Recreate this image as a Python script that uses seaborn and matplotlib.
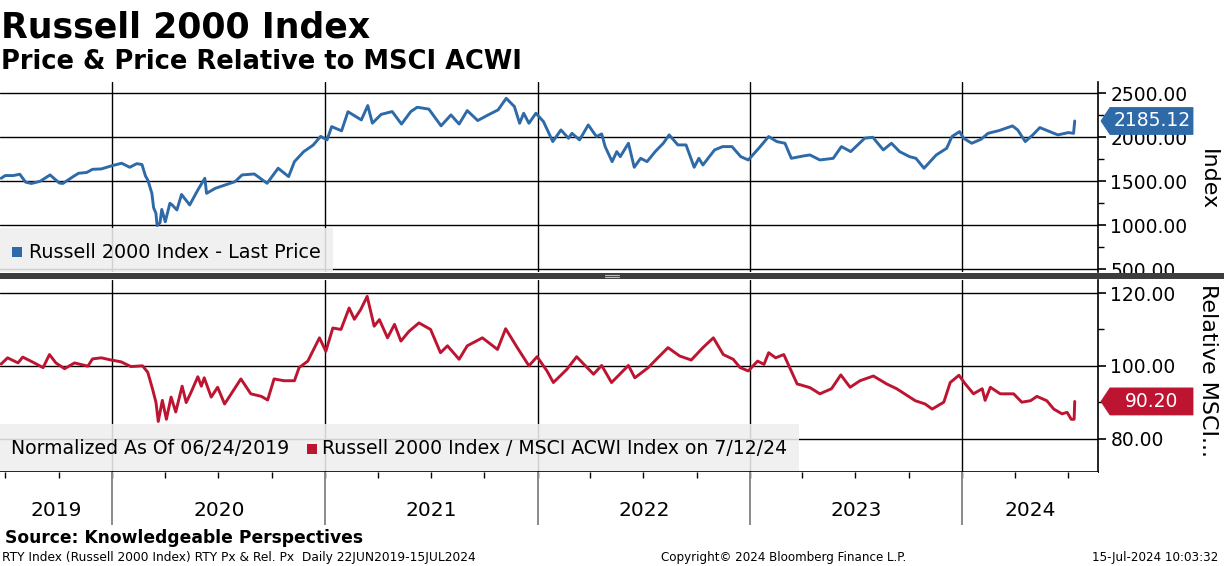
import numpy as np
import pandas as pd
import matplotlib
matplotlib.use("Agg")
from matplotlib import pyplot as plt
import matplotlib.dates as mdates
from matplotlib.patches import Rectangle, Polygon
from matplotlib.ticker import MultipleLocator, FormatStrFormatter
import seaborn as sns

# %% data
price_dates = [
    "2019-06-24", "2019-07-01", "2019-07-15", "2019-07-26", "2019-08-05", "2019-08-15",
    "2019-08-30", "2019-09-16", "2019-10-02", "2019-10-08", "2019-10-25", "2019-11-04",
    "2019-11-18", "2019-11-28", "2019-12-13", "2019-12-30", "2020-01-17", "2020-01-31",
    "2020-02-12", "2020-02-21", "2020-02-27", "2020-03-02", "2020-03-09", "2020-03-12",
    "2020-03-16", "2020-03-18", "2020-03-23", "2020-03-26", "2020-04-01", "2020-04-09",
    "2020-04-13", "2020-04-21", "2020-04-29", "2020-05-13", "2020-05-27", "2020-06-08",
    "2020-06-11", "2020-06-26", "2020-07-13", "2020-07-30", "2020-08-11", "2020-09-01",
    "2020-09-23", "2020-10-12", "2020-10-30", "2020-11-09", "2020-11-25", "2020-12-11",
    "2020-12-24", "2021-01-04", "2021-01-12", "2021-01-29", "2021-02-09", "2021-03-04",
    "2021-03-15", "2021-03-23", "2021-04-07", "2021-04-26", "2021-05-12", "2021-05-28",
    "2021-06-08", "2021-06-28", "2021-07-19", "2021-08-05", "2021-08-19", "2021-09-02",
    "2021-09-20", "2021-10-08", "2021-10-25", "2021-11-08", "2021-11-22", "2021-12-01",
    "2021-12-08", "2021-12-17", "2021-12-29", "2022-01-11", "2022-01-27", "2022-02-10",
    "2022-02-23", "2022-03-01", "2022-03-14", "2022-03-29", "2022-04-12", "2022-04-21",
    "2022-04-27", "2022-05-09", "2022-05-17", "2022-05-23", "2022-06-06", "2022-06-16",
    "2022-06-27", "2022-07-08", "2022-07-22", "2022-08-05", "2022-08-15", "2022-08-30",
    "2022-09-13", "2022-09-27", "2022-10-05", "2022-10-12", "2022-11-01", "2022-11-15",
    "2022-12-01", "2022-12-16", "2022-12-29", "2023-01-16", "2023-02-02", "2023-02-16",
    "2023-03-02", "2023-03-13", "2023-04-03", "2023-04-14", "2023-05-01", "2023-05-24",
    "2023-06-07", "2023-06-23", "2023-07-17", "2023-07-31", "2023-08-18", "2023-09-01",
    "2023-09-15", "2023-10-02", "2023-10-13", "2023-10-27", "2023-11-09", "2023-11-17",
    "2023-12-05", "2023-12-14", "2023-12-27", "2024-01-03", "2024-01-17", "2024-02-02",
    "2024-02-14", "2024-03-04", "2024-03-27", "2024-04-05", "2024-04-18", "2024-05-01",
    "2024-05-13", "2024-05-30", "2024-06-13", "2024-07-01", "2024-07-10", "2024-07-12",
]
price_vals = [
    1534, 1565, 1565, 1580, 1490, 1475,
    1500, 1572, 1480, 1475, 1550, 1591,
    1600, 1636, 1640, 1674, 1705, 1659,
    1700, 1690, 1560, 1515, 1363, 1200,
    1136, 996, 1030, 1180, 1040, 1250,
    1230, 1174, 1350, 1231, 1401, 1534,
    1363, 1420, 1458, 1496, 1572, 1583,
    1477, 1648, 1553, 1723, 1837, 1910,
    2010, 1970, 2121, 2073, 2290, 2197,
    2360, 2160, 2260, 2292, 2150, 2292,
    2341, 2320, 2130, 2254, 2150, 2303,
    2190, 2254, 2311, 2443, 2349, 2159,
    2273, 2159, 2273, 2178, 1951, 2083,
    1989, 2045, 1970, 2140, 2008, 2038,
    1894, 1723, 1837, 1780, 1932, 1659,
    1761, 1723, 1837, 1932, 2027, 1913,
    1913, 1659, 1761, 1685, 1856, 1894,
    1894, 1780, 1742, 1875, 2008, 1951,
    1932, 1761, 1788, 1799, 1742, 1761,
    1894, 1837, 1989, 2000, 1856, 1932,
    1837, 1780, 1761, 1648, 1742, 1799,
    1875, 2008, 2064, 1989, 1932, 1977,
    2045, 2076, 2129, 2083, 1951, 2027,
    2110, 2064, 2027, 2053, 2045, 2185.12,
]

rel_dates = [
    "2019-06-24", "2019-07-05", "2019-07-23", "2019-07-31", "2019-08-20", "2019-09-04",
    "2019-09-15", "2019-09-26", "2019-10-11", "2019-10-28", "2019-11-20", "2019-11-28",
    "2019-12-13", "2019-12-30", "2020-01-16", "2020-02-02", "2020-02-22", "2020-03-02",
    "2020-03-10", "2020-03-16", "2020-03-20", "2020-03-27", "2020-04-03", "2020-04-11",
    "2020-04-19", "2020-04-30", "2020-05-07", "2020-05-15", "2020-05-27", "2020-06-02",
    "2020-06-07", "2020-06-19", "2020-06-30", "2020-07-12", "2020-07-23", "2020-08-09",
    "2020-08-26", "2020-09-13", "2020-09-24", "2020-10-05", "2020-10-22", "2020-11-09",
    "2020-11-17", "2020-12-02", "2020-12-22", "2021-01-02", "2021-01-14", "2021-01-28",
    "2021-02-11", "2021-02-20", "2021-03-03", "2021-03-14", "2021-03-26", "2021-04-04",
    "2021-04-18", "2021-04-30", "2021-05-11", "2021-05-25", "2021-06-11", "2021-07-01",
    "2021-07-18", "2021-07-30", "2021-08-19", "2021-09-02", "2021-09-28", "2021-10-24",
    "2021-11-07", "2021-11-27", "2021-12-17", "2021-12-31", "2022-01-17", "2022-01-28",
    "2022-02-20", "2022-03-09", "2022-04-07", "2022-04-21", "2022-05-08", "2022-06-06",
    "2022-06-17", "2022-07-10", "2022-07-24", "2022-08-13", "2022-09-02", "2022-09-22",
    "2022-10-12", "2022-10-30", "2022-11-16", "2022-12-03", "2022-12-15", "2022-12-29",
    "2023-01-14", "2023-01-25", "2023-02-02", "2023-02-14", "2023-02-28", "2023-03-14",
    "2023-03-23", "2023-03-28", "2023-04-14", "2023-05-01", "2023-05-21", "2023-06-06",
    "2023-06-22", "2023-07-09", "2023-08-01", "2023-08-24", "2023-09-10", "2023-10-12",
    "2023-10-29", "2023-11-10", "2023-11-30", "2023-12-11", "2023-12-26", "2024-01-06",
    "2024-01-20", "2024-02-04", "2024-02-09", "2024-02-18", "2024-03-06", "2024-03-29",
    "2024-04-12", "2024-04-27", "2024-05-08", "2024-05-25", "2024-06-06", "2024-06-20",
    "2024-06-29", "2024-07-06", "2024-07-11", "2024-07-12",
]
rel_vals = [
    100.5, 102.2, 100.8, 102.4, 100.8, 99.5,
    103.1, 100.8, 99.2, 100.8, 99.9, 101.9,
    102.2, 101.6, 101.1, 99.8, 100.0, 98.2,
    93.7, 90.0, 84.7, 90.5, 85.3, 91.4,
    87.3, 94.4, 89.9, 92.6, 97.0, 94.4,
    96.7, 91.4, 94.1, 89.5, 92.2, 96.4,
    92.3, 91.6, 90.6, 96.4, 95.9, 95.9,
    99.5, 101.3, 107.7, 104.0, 110.4, 110.0,
    115.9, 112.8, 115.5, 119.1, 110.9, 112.7,
    107.7, 111.4, 106.8, 109.5, 111.8, 110.0,
    103.6, 105.5, 101.8, 105.5, 107.7, 104.5,
    110.2, 105.0, 100.0, 102.5, 98.6, 95.4,
    99.0, 102.5, 97.7, 100.1, 95.4, 100.1,
    96.7, 99.5, 101.8, 105.0, 102.7, 101.6,
    105.0, 107.7, 103.1, 101.8, 99.5, 98.6,
    101.3, 100.4, 103.6, 102.2, 103.1, 98.2,
    95.0, 94.8, 94.0, 92.3, 93.7, 97.5,
    94.1, 95.9, 97.2, 95.0, 93.7, 90.4,
    89.5, 88.1, 90.0, 95.4, 97.4, 95.0,
    92.3, 93.7, 90.5, 94.1, 92.3, 92.3,
    90.0, 90.4, 91.6, 90.4, 88.1, 86.8,
    87.2, 85.3, 85.3, 90.2,
]

years = [2019, 2020, 2021, 2022, 2023, 2024]
x_start, x_end = "2019-06-22", "2024-08-21"

BLUE = "#2e6aa8"
RED = "#bd1531"

# %% figure
sns.set_style("white")
plt.rcParams['font.family'] = ['DejaVu Sans']
plt.rcParams['text.color'] = 'black'
plt.rcParams['ytick.color'] = 'black'
plt.rcParams['xtick.color'] = 'black'

W, H = 1224, 566
fig = plt.figure(figsize=(W / 100, H / 100), dpi=100)


def frame(x0, y0, x1, y1):
    # pixel box (top-left origin) -> figure fraction
    return [x0 / W, 1 - y1 / H, (x1 - x0) / W, (y1 - y0) / H]


def fx(x):
    return x / W


def fy(y):
    return 1 - y / H


ax1 = fig.add_axes(frame(0, 82, 1098, 272))
ax2 = fig.add_axes(frame(0, 280, 1098, 472))
ax3 = fig.add_axes(frame(0, 472, 1098, 525))

df_px = pd.DataFrame({"date": pd.to_datetime(price_dates), "value": price_vals})
df_rel = pd.DataFrame({"date": pd.to_datetime(rel_dates), "value": rel_vals})

sns.lineplot(data=df_px, x="date", y="value", ax=ax1, color=BLUE, lw=2.1)
sns.lineplot(data=df_rel, x="date", y="value", ax=ax2, color=RED, lw=2.1)

xl = (pd.Timestamp(x_start), pd.Timestamp(x_end))
year_starts = [pd.Timestamp(f"{y}-01-01") for y in years[1:]]

for ax, lims, major, minor in [(ax1, (469, 2628), 500, 250), (ax2, (70.8, 123.6), 20, 10)]:
    ax.set_xlim(xl)
    ax.set_ylim(lims)
    ax.set_xlabel("")
    ax.set_ylabel("")
    ax.yaxis.tick_right()
    ax.yaxis.set_major_locator(MultipleLocator(major))
    ax.yaxis.set_minor_locator(MultipleLocator(minor))
    ax.yaxis.set_major_formatter(FormatStrFormatter("%.2f"))
    ax.tick_params(axis="y", which="major", length=6, width=1.2, pad=3, labelsize=13.5,
                   colors="black", labelcolor="black")
    ax.tick_params(axis="y", which="minor", length=4, width=1, colors="black")
    ax.xaxis.set_major_locator(mdates.YearLocator())
    ax.tick_params(axis="x", length=0, labelbottom=False)
    ax.grid(False)
    ax.yaxis.grid(True, which="major", color="black", lw=1)
    for d in year_starts:
        ax.axvline(d, color="black", lw=1, zorder=0)
    ax.set_axisbelow(True)
    for s in ["top", "left", "bottom"]:
        ax.spines[s].set_visible(False)
    ax.spines["right"].set_color("black")
    ax.spines["right"].set_linewidth(1.2)

ax2.spines["bottom"].set_visible(True)
ax2.spines["bottom"].set_color("black")
ax2.spines["bottom"].set_linewidth(1.2)

# year strip
ax3.set_xlim(xl)
ax3.set_ylim(0, 1)
ax3.set_yticks([])
for s in ["top", "left", "bottom", "right"]:
    ax3.spines[s].set_visible(False)
ax3.xaxis.tick_top()
ax3.xaxis.set_major_locator(mdates.YearLocator())
ax3.xaxis.set_minor_locator(mdates.MonthLocator([1, 4, 7, 10]))
ax3.tick_params(axis="x", which="both", direction="in", length=4, width=1, colors="black",
                labeltop=False, labelbottom=False)
ax3.vlines(year_starts, 0, 1, color="#8a8a8a", lw=1.4)
for y in years:
    a = max(pd.Timestamp(f"{y}-01-01"), xl[0])
    b = min(pd.Timestamp(f"{y + 1}-01-01"), xl[1])
    ax3.text(a + (b - a) / 2, 0.27, str(y), ha="center", va="center", fontsize=14.5, color="black")

# separator band between panels
fig.add_artist(Rectangle((0, fy(279)), 1, (279 - 273) / H, transform=fig.transFigure,
                         facecolor="#3d3d3d", edgecolor="none"))
for yy in (275.3, 277):
    fig.add_artist(plt.Line2D([fx(605), fx(619)], [fy(yy), fy(yy)], color="#bdbdbd", lw=0.8))

# legend boxes
fig.add_artist(Rectangle((0, fy(272)), fx(333), (272 - 228) / H, transform=fig.transFigure,
                         facecolor="#eeeeee", alpha=0.88, edgecolor="none"))
fig.add_artist(Rectangle((fx(12), fy(257)), fx(10), 10 / H, transform=fig.transFigure,
                         facecolor=BLUE, edgecolor="none"))
fig.text(fx(29), fy(252), "Russell 2000 Index - Last Price", fontsize=13.8, va="center", ha="left")

fig.add_artist(Rectangle((0, fy(471)), fx(799), (471 - 424) / H, transform=fig.transFigure,
                         facecolor="#eeeeee", alpha=0.88, edgecolor="none"))
fig.text(fx(11), fy(449), "Normalized As Of 06/24/2019", fontsize=13.6, va="center", ha="left")
fig.add_artist(Rectangle((fx(307), fy(454)), fx(10), 10 / H, transform=fig.transFigure,
                         facecolor=RED, edgecolor="none"))
fig.text(fx(322), fy(449), "Russell 2000 Index / MSCI ACWI Index on 7/12/24", fontsize=13.6,
         va="center", ha="left")


# last value tags
def value_tag(ax, date, val, color):
    disp = ax.transData.transform((mdates.date2num(pd.Timestamp(date)), val))
    _, yc = fig.transFigure.inverted().transform(disp)
    h = 13.5 / H
    pts = [(fx(1101), yc), (fx(1110), yc + h), (fx(1193), yc + h), (fx(1193), yc - h), (fx(1110), yc - h)]
    fig.add_artist(Polygon(pts, closed=True, transform=fig.transFigure, facecolor=color,
                           edgecolor=color, lw=0.6))
    fig.text(fx(1152), yc, f"{val:.2f}", color="white", fontsize=13.5, ha="center", va="center")


value_tag(ax1, price_dates[-1], price_vals[-1], BLUE)
value_tag(ax2, rel_dates[-1], rel_vals[-1], RED)

# axis titles on the right
fig.text(fx(1208), fy(180), "Index", rotation=270, fontsize=16, ha="center", va="center")
fig.text(fx(1208), fy(284), "Relative MSCI...", rotation=270, fontsize=16, ha="center", va="top")

# titles and footer
fig.text(fx(1), fy(37), "Russell 2000 Index", fontsize=25, fontweight="bold", va="baseline")
fig.text(fx(1), fy(69), "Price & Price Relative to MSCI ACWI", fontsize=18.5, fontweight="bold",
         va="baseline")
fig.text(fx(5), fy(543), "Source: Knowledgeable Perspectives", fontsize=12.3, fontweight="bold",
         va="baseline")
fig.text(fx(2), fy(561), "RTY Index (Russell 2000 Index) RTY Px & Rel. Px  Daily 22JUN2019-15JUL2024",
         fontsize=8.8, va="baseline")
fig.text(fx(784), fy(561), "Copyright\u00a9 2024 Bloomberg Finance L.P.", fontsize=8.6,
         va="baseline", ha="center")
fig.text(fx(1218), fy(561), "15-Jul-2024 10:03:32", fontsize=8.6, va="baseline", ha="right")

fig.savefig("out.png", dpi=100, facecolor="white")
